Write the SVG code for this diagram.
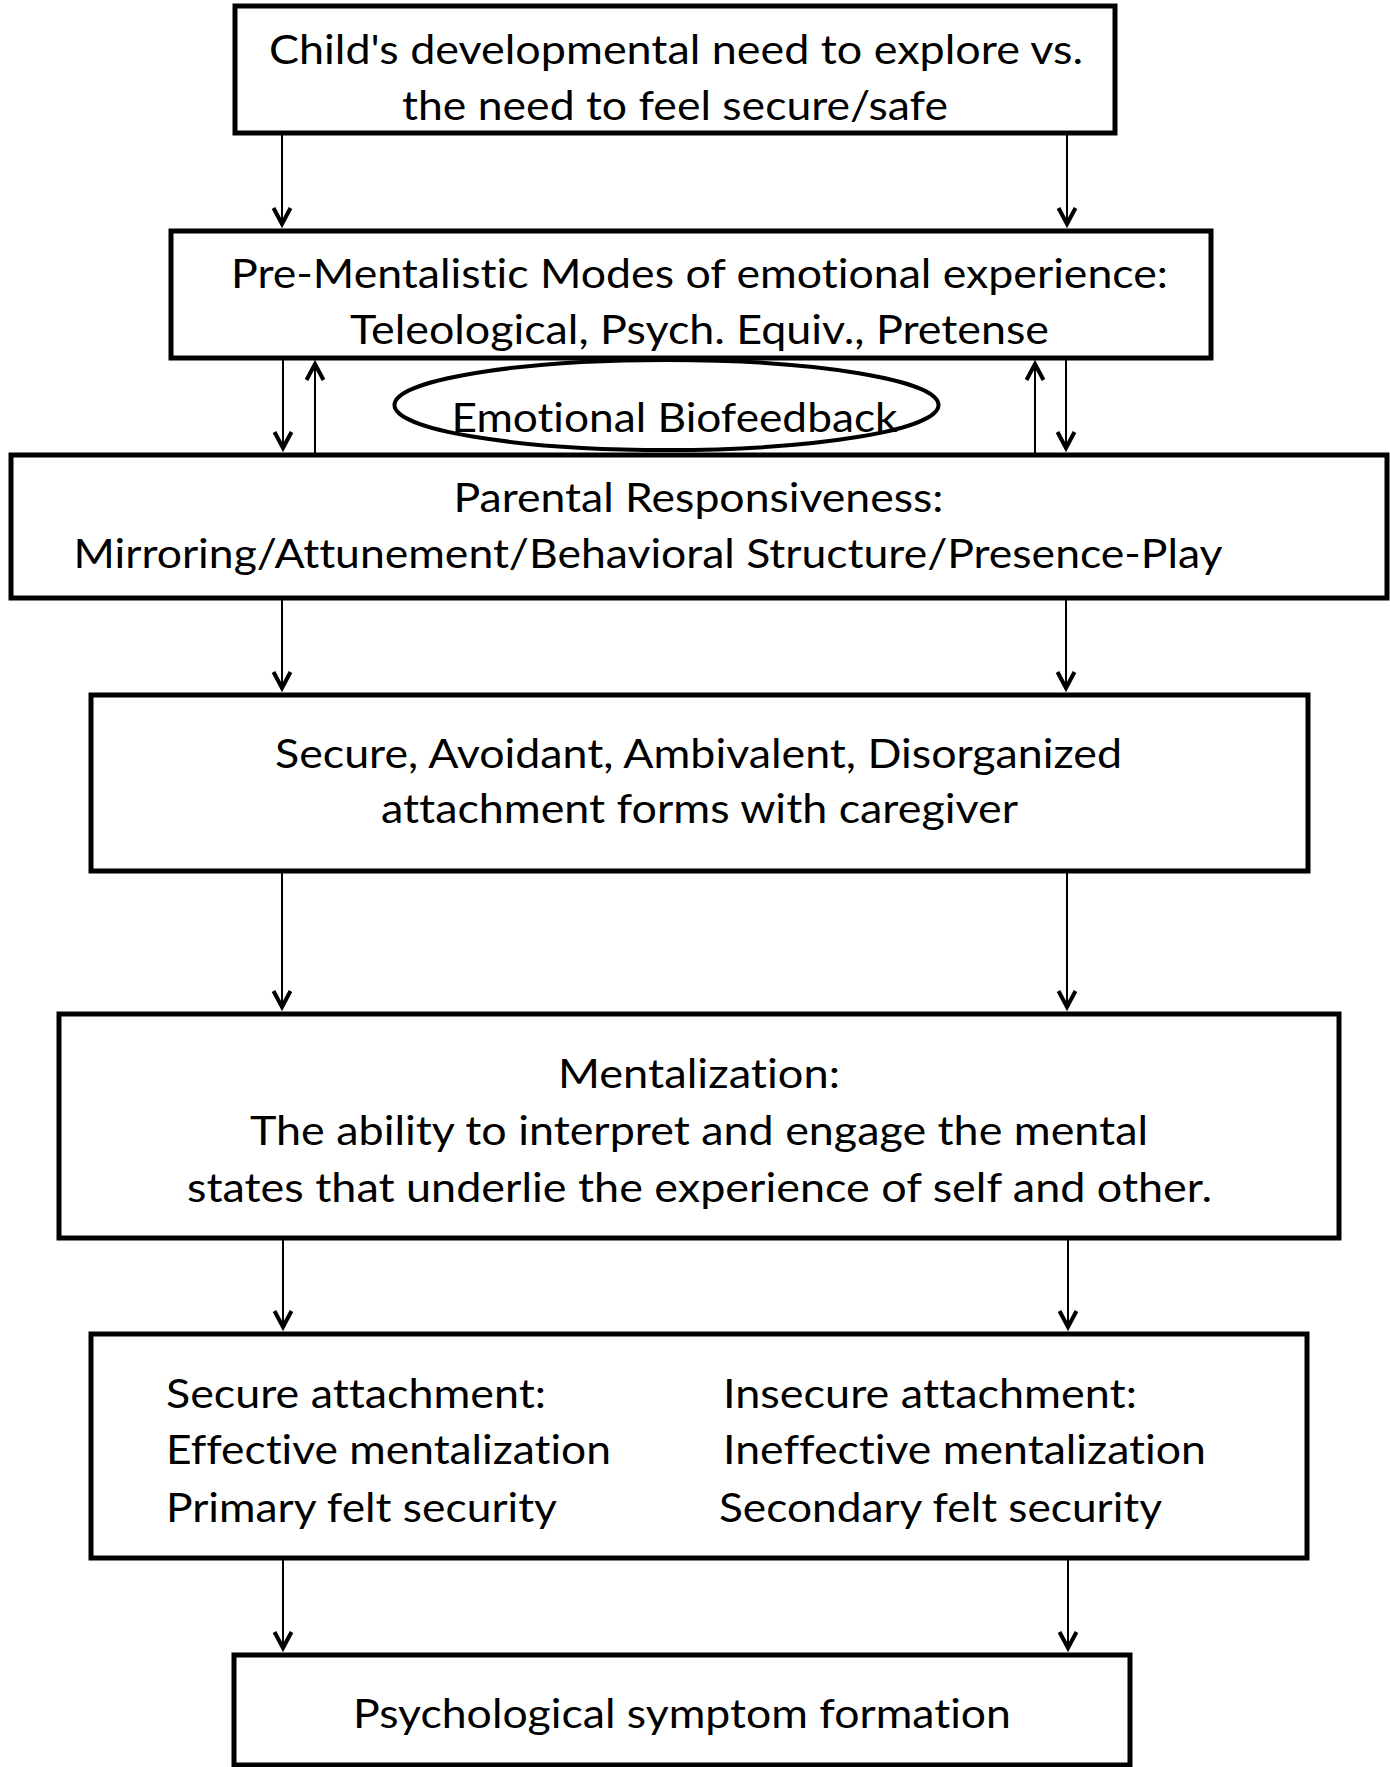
<svg xmlns="http://www.w3.org/2000/svg" width="1390" height="1767" viewBox="0 0 1390 1767">
<style>
.box{fill:#fff;stroke:#000;stroke-width:5}
.t{font-family:Lato,"Open Sans","Liberation Sans",sans-serif;font-size:41px;fill:#000;font-variant-ligatures:none;font-feature-settings:"liga" 0,"clig" 0,"dlig" 0}
.m{text-anchor:middle}
.c{stroke:#000;stroke-width:2;fill:none;marker-end:url(#ah)}
.ell{fill:none;stroke:#000;stroke-width:4}
</style>
<defs>
<marker id="ah" markerUnits="userSpaceOnUse" viewBox="-22 -12 24 24" refX="0" refY="0" markerWidth="24" markerHeight="24" orient="auto" overflow="visible">
<path d="M-16,-8.5 L0,0 L-16,8.5" fill="none" stroke="#000" stroke-width="4"/>
</marker>
</defs>
<rect width="1390" height="1767" fill="#fff"/>
<g id="n1">
<rect class="box" x="235" y="6" width="880" height="127"/>
<text class="t m" x="676" y="64" textLength="814" lengthAdjust="spacingAndGlyphs">Child's developmental need to explore vs.</text>
<text class="t m" x="675" y="120" textLength="546" lengthAdjust="spacingAndGlyphs">the need to feel secure/safe</text>
</g>
<g id="n2">
<rect class="box" x="171" y="231" width="1040" height="127"/>
<text class="t m" x="699.5" y="288" textLength="937" lengthAdjust="spacingAndGlyphs">Pre-Mentalistic Modes of emotional experience:</text>
<text class="t m" x="699.5" y="344" textLength="699" lengthAdjust="spacingAndGlyphs">Teleological, Psych. Equiv., Pretense</text>
</g>
<g id="n3">
<rect class="box" x="11" y="455" width="1376" height="143"/>
<text class="t m" x="698.5" y="512" textLength="490" lengthAdjust="spacingAndGlyphs">Parental Responsiveness:</text>
<text class="t m" x="648" y="568" textLength="1149" lengthAdjust="spacingAndGlyphs">Mirroring/Attunement/Behavioral Structure/Presence-Play</text>
</g>
<g id="n-ellipse">
<ellipse class="ell" cx="666.5" cy="405" rx="272" ry="45"/>
<text class="t m" x="674.5" y="432" textLength="446" lengthAdjust="spacingAndGlyphs">Emotional Biofeedback</text>
</g>
<g id="n4">
<rect class="box" x="91" y="695" width="1217" height="176"/>
<text class="t m" x="698.5" y="768" textLength="847" lengthAdjust="spacingAndGlyphs">Secure, Avoidant, Ambivalent, Disorganized</text>
<text class="t m" x="699.5" y="823" textLength="637" lengthAdjust="spacingAndGlyphs">attachment forms with caregiver</text>
</g>
<g id="n5">
<rect class="box" x="59" y="1014" width="1280" height="224"/>
<text class="t m" x="699" y="1088" textLength="282" lengthAdjust="spacingAndGlyphs">Mentalization:</text>
<text class="t m" x="699" y="1145" textLength="898" lengthAdjust="spacingAndGlyphs">The ability to interpret and engage the mental</text>
<text class="t m" x="699.5" y="1202" textLength="1025" lengthAdjust="spacingAndGlyphs">states that underlie the experience of self and other.</text>
</g>
<g id="n6">
<rect class="box" x="91" y="1334" width="1216" height="224"/>
<text class="t" x="166" y="1408" textLength="380" lengthAdjust="spacingAndGlyphs">Secure attachment:</text>
<text class="t" x="166" y="1464" textLength="445" lengthAdjust="spacingAndGlyphs">Effective mentalization</text>
<text class="t" x="166" y="1522" textLength="391" lengthAdjust="spacingAndGlyphs">Primary felt security</text>
<text class="t" x="723" y="1408" textLength="414" lengthAdjust="spacingAndGlyphs">Insecure attachment:</text>
<text class="t" x="723" y="1464" textLength="483" lengthAdjust="spacingAndGlyphs">Ineffective mentalization</text>
<text class="t" x="719" y="1522" textLength="443" lengthAdjust="spacingAndGlyphs">Secondary felt security</text>
</g>
<g id="n7">
<rect class="box" x="234" y="1655" width="896" height="110"/>
<text class="t m" x="682" y="1728" textLength="658" lengthAdjust="spacingAndGlyphs">Psychological symptom formation</text>
</g>
<g id="connectors">
<path class="c" d="M282,133 V224"/>
<path class="c" d="M1067,133 V224"/>
<path class="c" d="M283,358 V448"/>
<path class="c" d="M1066,358 V448"/>
<path class="c" d="M315,455 V364"/>
<path class="c" d="M1035,455 V364"/>
<path class="c" d="M282,598 V688"/>
<path class="c" d="M1066,598 V688"/>
<path class="c" d="M282,871 V1007"/>
<path class="c" d="M1067,871 V1007"/>
<path class="c" d="M283,1238 V1327"/>
<path class="c" d="M1068,1238 V1327"/>
<path class="c" d="M283,1558 V1648"/>
<path class="c" d="M1068,1558 V1648"/>
</g>
</svg>
